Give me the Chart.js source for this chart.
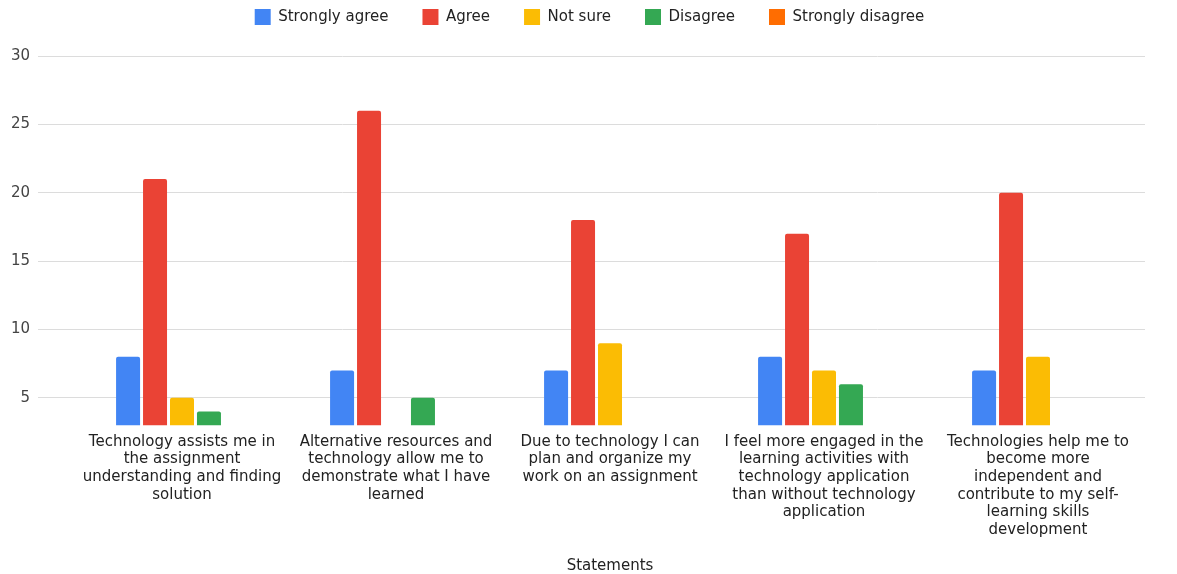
<html>
<head>
<meta charset="UTF-8">
<title>Statements</title>
<style>
body {
    margin: 0;
    padding: 0;
    background: white;
}
div.main {
    width: 1177px;
    height: 574px;
}
</style>
<script src="https://cdnjs.cloudflare.com/ajax/libs/Chart.js/4.2.1/chart.umd.min.js"></script>
</head>
<body>
<div class="main">
<canvas id="canvas" width="1177" height="574"></canvas>
</div>
</body>
<script>
const statements = [
    ["Technology assists me in", "the assignment", "understanding and finding", "solution"],
    ["Alternative resources and", "technology allow me to", "demonstrate what I have", "learned"],
    ["Due to technology I can", "plan and organize my", "work on an assignment"],
    ["I feel more engaged in the", "learning activities with", "technology application", "than without technology", "application"],
    ["Technologies help me to", "become more", "independent and", "contribute to my self-", "learning skills", "development"],
]
const stronglyAgree = [8, 7, 7, 8, 7]
const agree = [21, 26, 18, 17, 20]
const notSure = [5, 0, 9, 7, 8]
const disagree = [4, 5, 0, 6, 0]
const stronglyDisagree = [0, 0, 0, 0, 0]

Chart.defaults.font.family = "'DejaVu Sans', Arial, sans-serif"
Chart.defaults.font.size = 15
Chart.defaults.color = "#222"

const bar = (label, data, color) => ({
    label: label,
    data: data,
    backgroundColor: color,
    borderRadius: 2,
    borderSkipped: false,
    categoryPercentage: 0.63,
    barPercentage: 0.89,
})

// extra room under the legend, and centre it on the whole page
const legendGap = {
    id: "legendGap",
    beforeInit(chart) {
        const fit = chart.legend.fit
        chart.legend.fit = function() {
            fit.bind(chart.legend)()
            this.height += 21
        }
    },
    afterLayout(chart) {
        chart.legend.left += 17
        chart.legend.right += 17
    },
}

const ctx = document.getElementById("canvas").getContext("2d")
const chart = new Chart(ctx, {
    type: "bar",
    data: {
        labels: statements,
        datasets: [
            bar("Strongly agree", stronglyAgree, "#4285F4"),
            bar("Agree", agree, "#EA4335"),
            bar("Not sure", notSure, "#FBBC04"),
            bar("Disagree", disagree, "#34A853"),
            bar("Strongly disagree", stronglyDisagree, "#FF6D01"),
        ],
    },
    plugins: [legendGap],
    options: {
        responsive: false,
        animation: false,
        layout: {padding: {top: -25, right: 32, bottom: 0, left: 0}},
        plugins: {
            legend: {
                position: "top",
                labels: {boxWidth: 16, boxHeight: 16, padding: 34, color: "#222", font: {size: 15}},
            },
            tooltip: {enabled: false},
        },
        scales: {
            x: {
                grid: {display: false, drawTicks: false},
                border: {display: false},
                ticks: {maxRotation: 0, autoSkip: false, padding: 8, color: "#222", font: {size: 15, lineHeight: 1.17}},
                title: {display: true, text: "Statements", color: "#222", font: {size: 15, lineHeight: 1.1}, padding: {top: 11, bottom: 0}},
            },
            y: {
                min: 3,
                max: 30,
                border: {display: false},
                grid: {color: "#dcdcdc", tickLength: 37, drawTicks: true},
                ticks: {stepSize: 5, includeBounds: false, padding: 8, color: "#444", font: {size: 15}},
                afterFit: (scale) => { scale.width = 75 },
            },
        },
    },
})
</script>
</html>
